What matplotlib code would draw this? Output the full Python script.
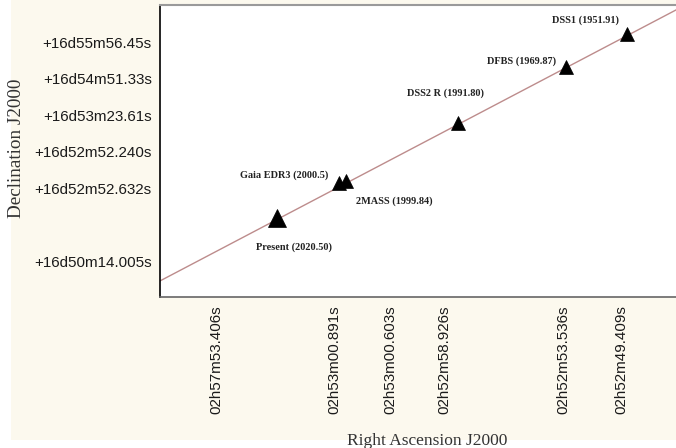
import numpy as np
import matplotlib
matplotlib.use("Agg")
import matplotlib.pyplot as plt
from matplotlib.patches import Rectangle

# Epoch positions on the sky (relative plot units along RA / Dec)
epochs = ["Present (2020.50)", "Gaia EDR3 (2000.5)", "2MASS (1999.84)",
          "DSS2 R (1991.80)", "DFBS (1969.87)", "DSS1 (1951.91)"]
ra_pos = [22.7, 34.7, 36.0, 57.8, 78.6, 90.5]
dec_pos = [27.1, 39.0, 39.7, 59.6, 78.8, 90.1]

# Straight-line track of the motion
trend_ra = [0.0, 100.0]
trend_dec = [5.5, 98.3]

# Axis ticks
ra_ticks = [11.0, 33.7, 44.6, 55.2, 78.1, 89.5]
ra_labels = ["02h57m53.406s", "02h53m00.891s", "02h53m00.603s",
             "02h52m58.926s", "02h52m53.536s", "02h52m49.409s"]
dec_ticks = [87.3, 75.0, 62.3, 49.7, 37.3, 12.0]
dec_labels = ["+16d55m56.45s", "+16d54m51.33s", "+16d53m23.61s",
              "+16d52m52.240s", "+16d52m52.632s", "+16d50m14.005s"]

# Label placement (pixel offsets from each marker) and marker sizes
label_offsets = [(17, -29), (-55, 8), (49, -20), (-13, 30), (-44, 6), (-41, 14)]
marker_sizes = [13, 10, 10, 10, 10, 10]

W, H, DPI = 676, 448, 100
fig = plt.figure(figsize=(W / DPI, H / DPI), dpi=DPI, facecolor="white")
fig.patches.append(Rectangle((11 / W, 8 / H), 1 - 11 / W, 1 - 8 / H,
                             transform=fig.transFigure, facecolor="#fcf9ee",
                             edgecolor="none", zorder=-10))

ax_left, ax_bottom = 160 / W, 1 - 297 / H
ax_w, ax_h = 1 - 160 / W, (297 - 5) / H
ax = fig.add_axes([ax_left, ax_bottom, ax_w, ax_h])
ax.set_facecolor("white")
ax.set_xlim(0, 100)
ax.set_ylim(0, 100)

ax.plot(trend_ra, trend_dec, color="#bd8c8c", lw=1.0, zorder=2)

for x, y, lab, off, ms in zip(ra_pos, dec_pos, epochs, label_offsets, marker_sizes):
    ax.plot(x, y, marker="^", color="black", markersize=ms, zorder=3,
            markeredgewidth=0.5)
    ax.annotate(lab, (x, y), xytext=off, textcoords="offset pixels",
                ha="center", va="center", fontsize=7.4, fontweight="bold",
                family="Liberation Serif", color="#222222")

ax.set_xticks(ra_ticks)
ax.set_xticklabels(ra_labels, rotation=90, family="Liberation Sans",
                   fontsize=10.9, color="#1a1a1a")
ax.set_yticks(dec_ticks)
ax.set_yticklabels(dec_labels, family="Liberation Sans", fontsize=10.9,
                   color="#1a1a1a")
ax.tick_params(axis="both", length=0)
ax.tick_params(axis="x", pad=6)
ax.tick_params(axis="y", pad=6)

ax.set_xlabel("Right Ascension J2000", family="Liberation Serif",
              fontsize=12.5, color="#333333")
ax.set_ylabel("Declination J2000", family="Liberation Serif",
              fontsize=13.8, color="#333333")
ax.xaxis.set_label_coords((427 - 160) / (W - 160), -(433 - 297) / (297 - 5))
ax.yaxis.set_label_coords(-(160 - 25) / (W - 160), (297 - 148) / (297 - 5))

ax.spines["left"].set_color("black")
ax.spines["left"].set_linewidth(1.2)
ax.spines["top"].set_color("#9a9a9a")
ax.spines["top"].set_linewidth(1.5)
ax.spines["bottom"].set_color("#666666")
ax.spines["bottom"].set_linewidth(1.2)
ax.spines["right"].set_visible(False)

fig.savefig("out.png", dpi=DPI, facecolor=fig.get_facecolor())
